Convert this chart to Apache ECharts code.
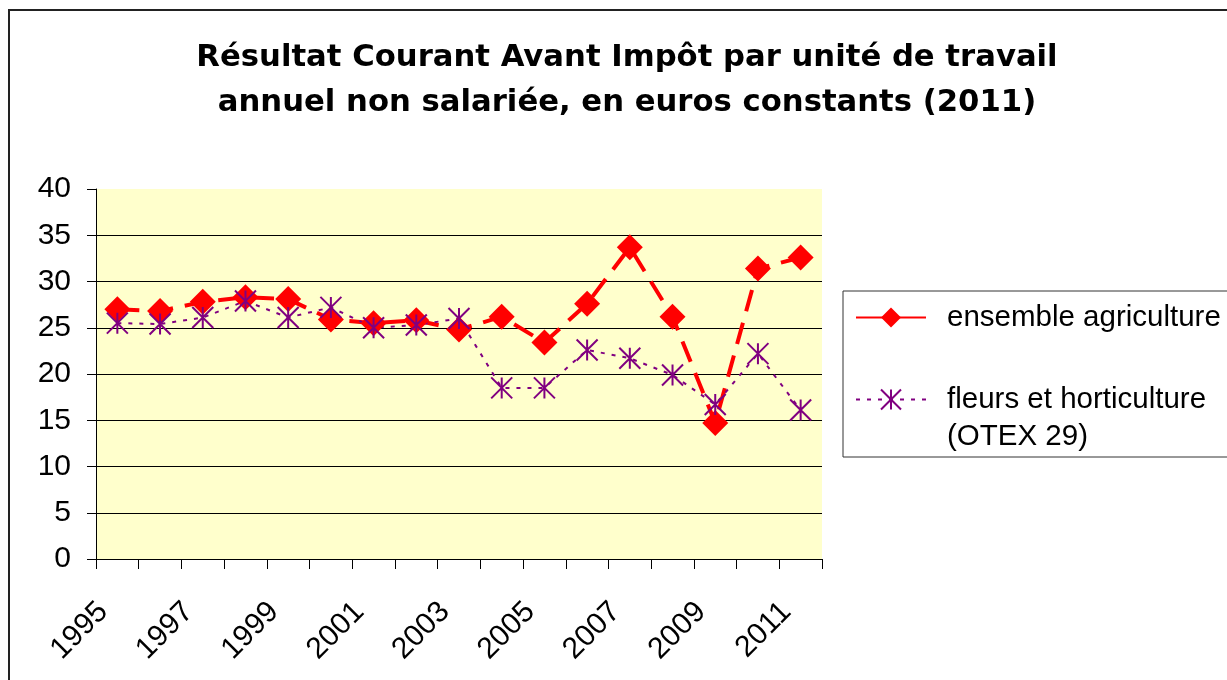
<!DOCTYPE html>
<html>
<head>
<meta charset="utf-8">
<script src="https://cdn.jsdelivr.net/npm/echarts@6/dist/echarts.min.js"></script>
<style>
  html, body { margin: 0; padding: 0; background: #fff; }
  #chart { width: 1227px; height: 680px; }
</style>
</head>
<body>
<div id="chart"></div>
<script>
  // années (axe des catégories)
  var years = ['1995', '1996', '1997', '1998', '1999', '2000', '2001', '2002', '2003',
               '2004', '2005', '2006', '2007', '2008', '2009', '2010', '2011'];

  // RCAI par UTANS, milliers d'euros constants 2011
  var ensembleAgri = [27.0, 26.8, 27.8, 28.3, 28.1, 25.9, 25.5, 25.8, 24.8,
                      26.2, 23.4, 27.6, 33.7, 26.2, 14.7, 31.4, 32.6];
  var fleursHorti = [25.5, 25.4, 26.1, 27.9, 26.1, 27.2, 25.0, 25.3, 26.0,
                     18.5, 18.5, 22.6, 21.7, 19.9, 16.7, 22.2, 16.1];

  var serieNames = ['ensemble agriculture', 'fleurs et horticulture\n(OTEX 29)'];
  var titleLines = ['Résultat Courant Avant Impôt par unité de travail',
                    'annuel non salariée, en euros constants (2011)'];

  var FONT = '"Liberation Sans", Arial, sans-serif';
  var RED = '#ff0000';
  var PURPLE = '#800080';
  // astérisque : X + trait vertical (tracé uniquement)
  var ASTERISK = 'path://M0,0L20,20M20,0L0,20M10,0L10,20';

  var chart = echarts.init(document.getElementById('chart'), null, { renderer: 'canvas' });

  var option = {
    backgroundColor: '#ffffff',
    animation: false,
    title: {
      text: titleLines.join('\n'),
      left: 627,          // avec textAlign center : abscisse du centre
      top: 36,
      padding: 0,
      textAlign: 'center',
      textStyle: {
        fontFamily: '"DejaVu Sans", sans-serif',
        fontWeight: 'bold',
        fontSize: 30.7,
        lineHeight: 45,
        color: '#000'
      }
    },
    graphic: [{
      type: 'rect',
      silent: true,
      z: -1,
      shape: { x: 9, y: 10, width: 1300, height: 800 },
      style: { fill: 'none', stroke: '#222', lineWidth: 2 }
    }],
    legend: {
      orient: 'vertical',
      left: 843,
      top: 291,
      padding: [8, 20, 2, 12],
      itemWidth: 70,
      itemHeight: 25,
      itemGap: 8,
      backgroundColor: '#fff',
      borderColor: '#333',
      borderWidth: 1,
      selectedMode: false,
      // 2e entrée : ligne vide devant pour caler la 1re ligne sur le symbole
      formatter: function (name) {
        return name === serieNames[1] ? ' \n' + name : name;
      },
      textStyle: {
        fontFamily: FONT,
        fontSize: 29.5,
        lineHeight: 37,
        color: '#000',
        padding: [0, 0, 0, 16]
      },
      data: [
        { name: serieNames[0], lineStyle: { type: 'solid' } },
        { name: serieNames[1] }
      ]
    },
    grid: {
      left: 96, right: 405, top: 189, bottom: 121,
      show: true,
      backgroundColor: '#ffffcc',
      borderWidth: 0
    },
    xAxis: {
      type: 'category',
      data: years,
      boundaryGap: true,
      axisLine: { show: true, lineStyle: { color: '#000', width: 1 } },
      axisTick: { show: true, interval: 0, length: 10, lineStyle: { color: '#000' } },
      axisLabel: {
        interval: 1,
        rotate: 45,
        margin: 34,
        padding: [0, 20, 0, 0],
        fontFamily: FONT,
        fontSize: 30,
        color: '#000'
      },
      splitLine: { show: false }
    },
    yAxis: {
      type: 'value',
      min: 0,
      max: 40,
      interval: 5,
      axisLine: { show: true, lineStyle: { color: '#000', width: 1 } },
      axisTick: { show: true, length: 9, lineStyle: { color: '#000' } },
      axisLabel: {
        margin: 25,
        fontFamily: FONT,
        fontSize: 30,
        color: '#000'
      },
      splitLine: { show: true, showMaxLine: false, lineStyle: { color: '#000', width: 1 } }
    },
    series: [
      {
        name: serieNames[0],
        type: 'line',
        data: ensembleAgri,
        symbol: 'diamond',
        symbolSize: 26,
        showAllSymbol: true,
        lineStyle: { color: RED, width: 4, type: [22, 12] },
        itemStyle: { color: RED, borderWidth: 0 },
        emphasis: { disabled: true }
      },
      {
        name: serieNames[1],
        type: 'line',
        data: fleursHorti,
        symbol: ASTERISK,
        symbolSize: 21,
        showAllSymbol: true,
        lineStyle: { color: PURPLE, width: 2, type: [4, 7] },
        itemStyle: { color: PURPLE, borderColor: PURPLE, borderWidth: 2 },
        emphasis: { disabled: true }
      }
    ]
  };

  chart.setOption(option);
</script>
</body>
</html>
